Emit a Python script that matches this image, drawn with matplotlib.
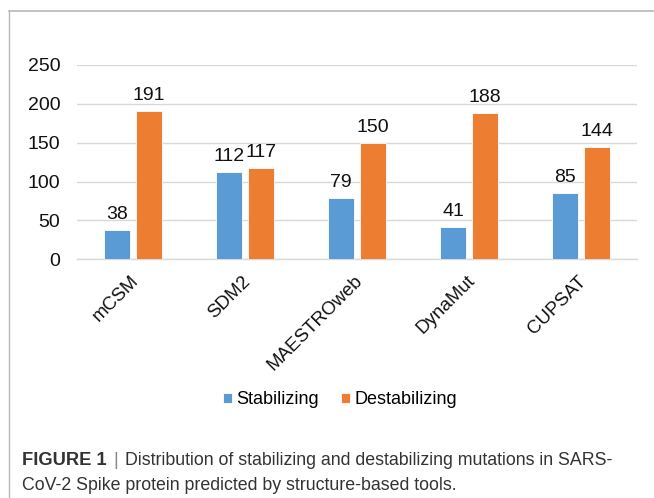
import matplotlib
matplotlib.use("Agg")
import matplotlib.pyplot as plt
import matplotlib.transforms as mtransforms
from matplotlib.lines import Line2D
import numpy as np

plt.rcParams['font.family'] = ['Liberation Sans', 'DejaVu Sans']

# data
tools = ['mCSM', 'SDM2', 'MAESTROweb', 'DynaMut', 'CUPSAT']
stabilizing = [38, 112, 79, 41, 85]
destabilizing = [191, 117, 150, 188, 144]
series_names = ['Stabilizing', 'Destabilizing']
series_colors = ['#5B9BD5', '#ED7D31']
y_ticks = [0, 50, 100, 150, 200, 250]

fig = plt.figure(figsize=(6.54, 4.98), dpi=100, facecolor='w')
ax = fig.add_axes([77 / 654, 1 - 259.3 / 498, 560 / 654, 194.3 / 498])

x = np.arange(len(tools))
w = 0.224
off = 0.143
b1 = ax.bar(x - off, stabilizing, w, color=series_colors[0], edgecolor='white',
            linewidth=0.6, label=series_names[0], zorder=3)
b2 = ax.bar(x + off, destabilizing, w, color=series_colors[1], edgecolor='white',
            linewidth=0.6, label=series_names[1], zorder=3)

for bars, vals in ((b1, stabilizing), (b2, destabilizing)):
    for r, v in zip(bars, vals):
        ax.annotate(str(v), (r.get_x() + r.get_width() / 2, v), xytext=(0, 8),
                    textcoords='offset points', ha='center', va='baseline',
                    fontsize=14, color='#111111')

ax.set_xlim(-0.5, len(tools) - 0.5)
ax.set_ylim(0, 250)
ax.set_yticks(y_ticks)
ax.yaxis.grid(True, color='#d9d9d9', linewidth=1, zorder=0)
for s in ['top', 'right', 'left']:
    ax.spines[s].set_visible(False)
ax.spines['bottom'].set_color('#d9d9d9')
ax.spines['bottom'].set_linewidth(1)
ax.tick_params(axis='y', length=0, pad=12, labelsize=14, labelcolor='#111111')
ax.tick_params(axis='x', length=0, pad=9.5, labelsize=13.5, labelcolor='#111111')
ax.set_xticks(x)
ax.set_xticklabels(tools, rotation=45, ha='right', va='top', rotation_mode='anchor')
shift = mtransforms.ScaledTranslation(-3 / 100, 0, fig.dpi_scale_trans)
for lbl in ax.get_xticklabels():
    lbl.set_transform(lbl.get_transform() + shift)

fig.legend(handles=[b1, b2], loc='center', bbox_to_anchor=(340 / 654, 1 - 400 / 498),
           ncol=2, frameon=False, fontsize=13, handlelength=0.5, handleheight=0.5,
           handletextpad=0.25, columnspacing=1.2, borderaxespad=0)

# frame lines of the figure panel
fig.add_artist(Line2D([8.5 / 654, 8.5 / 654], [0, 1 - 11 / 498], color='#b8b8b8', lw=1))
fig.add_artist(Line2D([8.5 / 654, 1], [1 - 11 / 498, 1 - 11 / 498], color='#b8b8b8', lw=1.2))

# caption
cap_color = '#333333'
cap_size = 12.75
t1 = fig.text(22 / 654, 1 - 465 / 498, 'FIGURE 1', fontsize=13.2, fontweight='bold',
              color=cap_color, va='baseline')
renderer = fig.canvas.get_renderer()
bb = t1.get_window_extent(renderer)
t2 = fig.text((bb.x1 + 7) / 654, 1 - 465 / 498, '|', fontsize=cap_size,
              color='#888888', va='baseline')
bb2 = t2.get_window_extent(renderer)
fig.text((bb2.x1 + 7) / 654, 1 - 465 / 498,
         'Distribution of stabilizing and destabilizing mutations in SARS-',
         fontsize=cap_size, color=cap_color, va='baseline')
fig.text(22 / 654, 1 - 490 / 498, 'CoV-2 Spike protein predicted by structure-based tools.',
         fontsize=cap_size, color=cap_color, va='baseline')

fig.savefig('out.png', dpi=100, facecolor='w')
